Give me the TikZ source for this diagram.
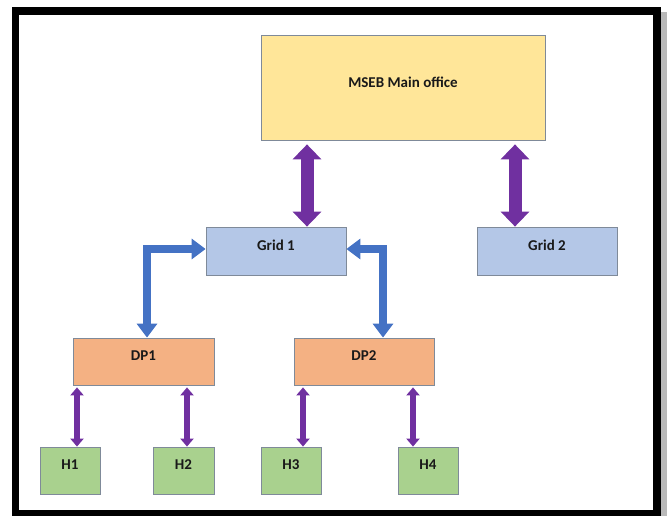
\documentclass[tikz,border=0pt]{standalone}
\usepackage{fontspec}
\setmainfont{Carlito}
\usepackage{tikz}
\usetikzlibrary{arrows.meta,calc,positioning}

\definecolor{officeyellow}{HTML}{FFE699}
\definecolor{gridblue}{HTML}{B4C7E7}
\definecolor{dporange}{HTML}{F4B183}
\definecolor{housegreen}{HTML}{A9D18E}
\definecolor{linkpurple}{HTML}{7030A0}
\definecolor{linkblue}{HTML}{4472C4}
\definecolor{boxline}{HTML}{7F8A99}

\begin{document}
\begin{tikzpicture}[x=1pt,y=-1pt,
		box/.style={draw=boxline,line width=0.8pt,inner sep=0pt,text depth=11pt,
			font=\fontsize{15}{18}\selectfont\bfseries,text=black!90},
		bigarrow/.style={linkpurple,line width=13pt,
			{Triangle[width=28pt,length=15pt]}-{Triangle[width=28pt,length=15pt]}},
		elbowarrow/.style={linkblue,line width=8pt,
			{Triangle[width=20pt,length=14pt]}-{Triangle[width=20pt,length=14pt]}},
		smallarrow/.style={linkpurple,line width=6pt,
			{Triangle[width=13pt,length=8pt]}-{Triangle[width=13pt,length=8pt]}}]
		\useasboundingbox (0,0) rectangle (667,516);
		
		% frame
		\fill[gray!55] (661,12) rectangle (667,516);
		\draw[black,line width=7.5pt] (15.5,11) rectangle (657,514);
		
		% main office and grids
		\node[box,fill=officeyellow,minimum width=284pt,minimum height=105pt] (mseb) at (403,87.5) {MSEB Main office};
		\node[box,fill=gridblue,minimum width=140pt,minimum height=48pt] (grid1) at (276,251) {Grid 1};
		\node[box,fill=gridblue,minimum width=140pt,minimum height=48pt] (grid2) at (547,251) {Grid 2};
		
		% distribution points
		\node[box,fill=dporange,minimum width=141pt,minimum height=47pt] (dp1) at (143.5,361.5) {DP1};
		\node[box,fill=dporange,minimum width=140pt,minimum height=47pt] (dp2) at (364,361.5) {DP2};
		
		% houses
		\node[box,fill=housegreen,minimum width=60pt,minimum height=47pt] (h1) at (70,470.5) {H1};
		\node[box,fill=housegreen,minimum width=61pt,minimum height=47pt] (h2) at (183.5,470.5) {H2};
		\node[box,fill=housegreen,minimum width=60pt,minimum height=47pt] (h3) at (291,470.5) {H3};
		\node[box,fill=housegreen,minimum width=60pt,minimum height=47pt] (h4) at (428,470.5) {H4};
		
		% link points
		\coordinate (g1link) at ([xshift=31pt]grid1.north);
		\coordinate (g2link) at ([xshift=-32pt]grid2.north);
		\coordinate (dp1link) at ([xshift=3.5pt]dp1.north);
		\coordinate (dp2link) at ([xshift=19pt]dp2.north);
		\coordinate (h1link) at ([xshift=7pt]h1.north);
		\coordinate (h2link) at ([xshift=3.5pt]h2.north);
		\coordinate (h3link) at ([xshift=12pt]h3.north);
		\coordinate (h4link) at ([xshift=-15pt]h4.north);
		
		% office to grids
		\draw[bigarrow,shorten <=4pt] (mseb.south -| g1link) -- (g1link);
		\draw[bigarrow,shorten <=4pt] (mseb.south -| g2link) -- (g2link);
		
		% grid 1 to distribution points
		\draw[elbowarrow] ([yshift=2pt]grid1.west) -| (dp1link);
		\draw[elbowarrow] ([yshift=2pt]grid1.east) -| (dp2link);
		
		% distribution points to houses
		\draw[smallarrow,shorten <=2pt] (dp1.south -| h1link) -- (h1link);
		\draw[smallarrow,shorten <=2pt] (dp1.south -| h2link) -- (h2link);
		\draw[smallarrow,shorten <=2pt] (dp2.south -| h3link) -- (h3link);
		\draw[smallarrow,shorten <=2pt] (dp2.south -| h4link) -- (h4link);
		
	\end{tikzpicture}
\end{document}
